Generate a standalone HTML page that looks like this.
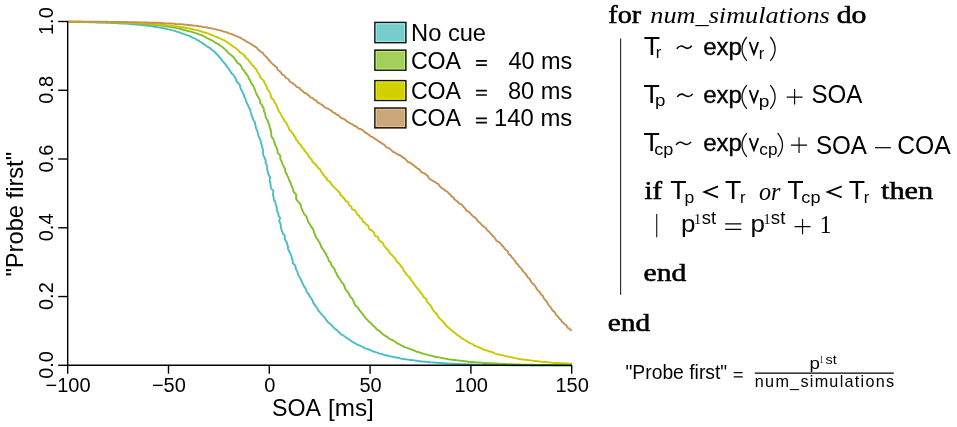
<!DOCTYPE html>
<html><head><meta charset="utf-8"><style>
html,body{margin:0;padding:0;background:#fff;overflow:hidden;}
svg{display:block;will-change:transform;}
</style></head><body>
<svg width="957" height="427" viewBox="0 0 957 427">
<rect width="957" height="427" fill="#fff"/>
<path d="M67.70,21.84 L68.71,21.88 L69.72,21.90 L70.72,21.90 L71.73,21.91 L72.74,21.95 L73.75,22.01 L74.76,22.02 L75.76,22.00 L76.77,22.02 L77.78,22.03 L78.79,22.03 L79.80,22.07 L80.80,22.11 L81.81,22.10 L82.82,22.13 L83.83,22.18 L84.84,22.16 L85.84,22.13 L86.85,22.14 L87.86,22.14 L88.87,22.20 L89.88,22.29 L90.88,22.35 L91.89,22.38 L92.90,22.36 L93.91,22.36 L94.92,22.38 L95.92,22.43 L96.93,22.44 L97.94,22.44 L98.95,22.48 L99.96,22.49 L100.97,22.51 L101.97,22.54 L102.98,22.60 L103.99,22.65 L105.00,22.67 L106.01,22.68 L107.01,22.74 L108.02,22.81 L109.03,22.85 L110.04,22.89 L111.04,22.95 L112.05,22.98 L113.06,22.99 L114.07,23.01 L115.08,23.06 L116.08,23.17 L117.09,23.26 L118.10,23.32 L119.10,23.41 L120.11,23.43 L121.13,23.41 L122.13,23.47 L123.14,23.53 L124.15,23.54 L125.16,23.59 L126.17,23.64 L127.18,23.72 L128.19,23.76 L129.19,23.87 L130.19,24.06 L131.19,24.23 L132.20,24.31 L133.21,24.36 L134.22,24.42 L135.23,24.46 L136.24,24.55 L137.25,24.67 L138.26,24.71 L139.27,24.76 L140.28,24.89 L141.29,24.93 L142.31,25.01 L143.30,25.24 L144.30,25.39 L145.32,25.46 L146.33,25.52 L147.34,25.65 L148.34,25.86 L149.34,26.06 L150.35,26.17 L151.38,26.14 L152.38,26.31 L153.37,26.58 L154.39,26.69 L155.41,26.79 L156.41,26.96 L157.41,27.18 L158.42,27.33 L159.43,27.52 L160.44,27.67 L161.46,27.81 L162.46,28.04 L163.46,28.28 L164.46,28.54 L165.47,28.74 L166.51,28.84 L167.49,29.17 L168.49,29.43 L169.50,29.67 L170.50,29.93 L171.53,30.12 L172.54,30.36 L173.56,30.60 L174.56,30.89 L175.58,31.14 L176.56,31.52 L177.55,31.89 L178.57,32.17 L179.60,32.44 L180.54,32.95 L181.56,33.28 L182.59,33.55 L183.61,33.90 L184.60,34.30 L185.62,34.66 L186.63,35.05 L187.68,35.36 L188.74,35.65 L189.74,36.11 L190.75,36.57 L191.76,37.04 L192.60,37.60 L193.53,37.99 L194.52,38.29 L195.43,38.74 L196.28,39.34 L197.12,39.95 L198.03,40.45 L198.97,40.92 L199.85,41.48 L200.77,42.01 L201.68,42.57 L202.53,43.23 L203.40,43.88 L204.34,44.44 L205.26,45.04 L206.13,45.73 L207.06,46.35 L207.93,46.87 L208.78,47.43 L209.70,47.91 L210.58,48.48 L211.23,49.33 L212.08,49.96 L213.00,50.52 L213.93,51.10 L214.63,51.95 L215.42,52.72 L216.20,53.52 L216.90,54.41 L217.77,55.15 L218.49,55.86 L219.04,56.74 L219.75,57.48 L220.59,58.12 L221.18,59.01 L221.71,59.95 L222.41,60.77 L223.02,61.67 L223.82,62.44 L224.56,63.27 L225.31,64.12 L226.04,65.00 L226.42,66.16 L226.89,67.06 L227.81,67.64 L228.53,68.39 L228.97,69.36 L229.60,70.20 L230.29,71.02 L230.72,72.02 L231.28,72.96 L232.09,73.76 L233.05,74.47 L233.73,75.39 L234.30,76.39 L234.94,77.37 L235.65,78.33 L236.16,79.42 L236.26,80.53 L236.66,81.47 L237.46,82.21 L238.18,83.00 L238.85,83.85 L239.54,84.69 L239.97,85.69 L240.23,86.80 L240.39,87.96 L240.78,89.02 L241.38,89.99 L242.00,90.96 L242.51,92.01 L242.84,93.15 L243.52,94.15 L244.03,95.24 L244.13,96.53 L244.70,97.63 L245.58,98.61 L245.68,99.67 L245.85,100.71 L246.30,101.64 L246.79,102.56 L246.93,103.64 L247.73,104.46 L248.22,105.42 L248.44,106.51 L248.88,107.51 L249.49,108.47 L250.16,109.41 L250.30,110.57 L250.59,111.69 L250.92,112.80 L251.33,113.89 L251.45,115.10 L251.86,116.22 L252.60,117.24 L252.91,118.42 L253.17,119.64 L253.83,120.73 L254.64,121.78 L255.11,122.97 L255.18,124.30 L255.55,125.55 L255.74,126.87 L256.03,128.17 L256.50,129.08 L256.85,130.03 L257.20,131.00 L257.60,131.95 L257.79,132.98 L257.97,134.02 L258.33,135.02 L258.56,136.06 L259.02,137.04 L259.42,138.06 L259.95,139.04 L260.64,139.99 L260.75,141.12 L260.75,142.28 L261.11,143.35 L261.52,144.42 L261.81,145.54 L262.08,146.66 L262.35,147.80 L262.73,148.92 L262.98,150.08 L263.03,151.31 L263.17,152.52 L263.10,153.80 L263.26,155.02 L263.71,156.18 L264.45,157.29 L264.99,158.45 L265.42,159.65 L265.75,160.89 L265.54,162.27 L265.85,163.54 L266.48,164.74 L267.07,165.96 L267.27,167.29 L267.18,168.69 L267.31,170.06 L267.65,171.39 L268.10,172.70 L268.28,174.09 L268.88,175.40 L269.81,176.65 L270.09,178.06 L269.71,179.60 L269.69,181.06 L270.16,182.40 L270.50,183.75 L270.60,185.15 L270.75,186.53 L270.77,187.93 L271.76,189.10 L273.03,190.19 L273.47,191.46 L273.21,192.89 L272.96,194.30 L273.25,195.58 L273.52,196.86 L273.69,198.15 L273.80,199.44 L274.47,200.59 L275.16,201.72 L275.48,202.94 L275.66,204.18 L275.93,205.39 L276.55,206.50 L276.82,207.70 L276.80,208.95 L276.90,210.17 L277.19,211.33 L277.87,212.38 L278.35,213.48 L278.40,214.67 L278.55,215.84 L279.34,216.82 L280.11,217.80 L279.71,219.09 L279.24,220.40 L279.35,221.53 L280.00,222.51 L280.35,223.56 L280.58,224.65 L280.91,225.69 L280.83,226.84 L280.82,227.97 L281.27,228.96 L281.72,229.93 L282.00,230.96 L282.32,231.95 L282.71,232.93 L283.15,233.88 L283.97,234.70 L284.77,235.52 L284.88,236.55 L284.67,237.67 L284.76,238.69 L285.20,239.94 L285.88,241.10 L286.64,242.22 L287.05,243.44 L287.28,244.71 L287.77,245.87 L287.95,247.14 L288.04,248.42 L288.41,249.60 L288.85,250.74 L289.42,251.82 L290.01,252.88 L290.46,253.98 L290.89,255.08 L291.38,256.14 L291.67,257.27 L291.99,258.37 L292.20,259.51 L292.72,260.52 L292.73,261.72 L292.71,262.91 L293.44,263.81 L294.43,264.59 L295.15,265.46 L295.47,266.49 L295.61,267.58 L295.93,268.59 L296.25,269.59 L296.75,270.50 L297.33,271.37 L297.53,272.39 L297.78,273.38 L298.12,274.33 L298.55,275.49 L299.28,276.51 L299.96,277.53 L300.38,278.66 L300.95,279.71 L301.35,280.83 L301.91,281.85 L302.46,282.86 L302.85,283.95 L303.33,284.97 L303.84,285.97 L304.42,286.91 L305.13,287.78 L305.72,288.70 L306.10,289.71 L306.39,290.77 L306.67,291.82 L307.27,292.68 L308.00,293.46 L308.81,294.18 L309.22,295.12 L309.54,296.09 L310.14,297.13 L310.92,298.04 L311.61,298.99 L312.16,300.00 L312.70,301.01 L313.02,302.15 L313.50,303.17 L314.19,304.05 L314.76,304.99 L315.47,305.82 L316.08,306.71 L316.60,307.64 L317.27,308.46 L317.95,309.25 L318.23,310.33 L318.80,311.18 L319.60,311.85 L320.18,312.67 L320.94,313.55 L321.79,314.34 L322.41,315.29 L323.17,316.12 L323.97,316.90 L324.74,317.69 L325.41,318.54 L325.86,319.57 L326.62,320.32 L327.27,321.16 L327.83,322.07 L328.59,322.78 L329.49,323.34 L330.27,324.01 L331.02,324.68 L331.88,325.43 L332.65,326.26 L333.30,327.19 L334.11,327.95 L334.88,328.73 L335.76,329.38 L336.73,329.92 L337.43,330.73 L338.16,331.51 L338.97,332.18 L339.74,332.88 L340.35,333.78 L341.16,334.42 L342.18,334.77 L343.10,335.23 L343.89,335.85 L344.79,336.52 L345.66,337.21 L346.51,337.93 L347.48,338.44 L348.42,338.99 L349.33,339.58 L350.21,340.20 L351.04,340.88 L351.91,341.49 L352.80,342.07 L353.74,342.54 L354.69,342.98 L355.56,343.55 L356.39,344.18 L357.33,344.60 L358.29,344.98 L359.26,345.31 L360.22,345.66 L361.10,346.14 L362.05,346.48 L362.92,346.97 L363.84,347.63 L364.80,348.19 L365.82,348.61 L366.85,348.97 L367.92,349.22 L368.99,349.48 L369.98,349.91 L370.93,350.44 L371.92,350.86 L372.92,351.25 L373.95,351.56 L374.96,351.89 L375.96,352.24 L376.95,352.65 L377.98,352.90 L378.95,353.33 L379.97,353.61 L380.99,353.84 L382.02,354.07 L383.00,354.44 L383.97,354.87 L384.99,355.11 L386.04,355.20 L387.06,355.41 L388.04,355.76 L389.03,356.09 L390.04,356.32 L391.07,356.46 L392.09,356.63 L393.08,356.93 L394.09,357.15 L395.11,357.29 L396.12,357.48 L397.15,357.61 L398.16,357.76 L399.16,357.97 L400.15,358.29 L401.12,358.64 L402.13,358.82 L403.15,358.94 L404.16,359.12 L405.18,359.18 L406.19,359.32 L407.19,359.55 L408.21,359.61 L409.22,359.75 L410.22,359.95 L411.23,360.05 L412.25,360.16 L413.25,360.29 L414.26,360.43 L415.26,360.62 L416.27,360.72 L417.28,360.87 L418.28,361.06 L419.28,361.19 L420.29,361.31 L421.30,361.45 L422.31,361.54 L423.32,361.61 L424.32,361.74 L425.33,361.82 L426.34,361.89 L427.35,361.97 L428.36,362.12 L429.36,362.23 L430.37,362.29 L431.38,362.39 L432.39,362.41 L433.40,362.45 L434.41,362.50 L435.42,362.64 L436.43,362.70 L437.44,362.77 L438.44,362.87 L439.45,362.95 L440.46,362.96 L441.47,363.01 L442.48,363.12 L443.48,363.24 L444.49,363.29 L445.49,363.42 L446.50,363.47 L447.51,363.49 L448.52,363.58 L449.53,363.61 L450.54,363.65 L451.54,363.72 L452.55,363.76 L453.56,363.78 L454.57,363.79 L455.58,363.85 L456.59,363.88 L457.59,363.94 L458.60,364.01 L459.61,364.08 L460.62,364.10 L461.63,364.08 L462.64,364.14 L463.64,364.16 L464.65,364.21 L465.66,364.29 L466.67,364.33 L467.68,364.32 L468.68,364.38 L469.69,364.45 L470.70,364.46 L471.71,364.43 L472.72,364.44 L473.72,364.47 L474.73,364.53 L475.74,364.59 L476.75,364.65 L477.75,364.66 L478.76,364.65 L479.77,364.71 L480.78,364.76 L481.79,364.78 L482.79,364.79 L483.80,364.80 L484.81,364.81 L485.82,364.85 L486.83,364.88 L487.83,364.90 L488.84,364.94 L489.85,364.93 L490.86,364.92 L491.87,364.93 L492.87,364.96 L493.88,365.00 L494.89,365.03 L495.90,365.05 L496.91,365.06 L497.91,365.06 L498.92,365.08 L499.93,365.09 L500.94,365.12 L501.95,365.15 L502.95,365.15 L503.96,365.14 L504.97,365.17 L505.98,365.20 L506.99,365.19 L507.99,365.20 L509.00,365.23 L510.01,365.26 L511.02,365.27 L512.03,365.27 L513.03,365.27 L514.04,365.28 L515.05,365.29 L516.06,365.31 L517.07,365.32 L518.07,365.33 L519.08,365.34 L520.09,365.35 L521.10,365.36 L522.11,365.37 L523.11,365.37 L524.12,365.38 L525.13,365.39 L526.14,365.40 L527.15,365.41 L528.15,365.42 L529.16,365.42 L530.17,365.43 L531.18,365.44 L532.19,365.45 L533.19,365.45 L534.20,365.46 L535.21,365.47 L536.22,365.47 L537.23,365.48 L538.23,365.49 L539.24,365.49 L540.25,365.50 L541.26,365.50 L542.27,365.51 L543.27,365.51 L544.28,365.52 L545.29,365.52 L546.30,365.53 L547.31,365.53 L548.31,365.54 L549.32,365.54 L550.33,365.55 L551.34,365.55 L552.35,365.56 L553.35,365.56 L554.36,365.57 L555.37,365.57 L556.38,365.57 L557.39,365.58 L558.39,365.58 L559.40,365.58 L560.41,365.59 L561.42,365.59 L562.43,365.59 L563.43,365.60 L564.44,365.60 L565.45,365.60 L566.46,365.61 L567.47,365.61 L568.47,365.61 L569.48,365.62 L570.49,365.62 L571.50,365.62" fill="none" stroke="#4ABCC2" stroke-width="1.9" stroke-linejoin="round" stroke-linecap="round"/>
<path d="M67.70,21.77 L68.71,21.76 L69.72,21.78 L70.72,21.79 L71.73,21.78 L72.74,21.78 L73.75,21.81 L74.76,21.84 L75.76,21.86 L76.77,21.84 L77.78,21.82 L78.79,21.82 L79.80,21.80 L80.80,21.83 L81.81,21.86 L82.82,21.90 L83.83,21.89 L84.84,21.92 L85.84,21.93 L86.85,21.95 L87.86,21.97 L88.87,22.00 L89.88,22.01 L90.88,22.00 L91.89,22.04 L92.90,22.10 L93.91,22.12 L94.92,22.11 L95.92,22.12 L96.93,22.16 L97.94,22.15 L98.95,22.14 L99.96,22.18 L100.96,22.21 L101.97,22.25 L102.98,22.26 L103.99,22.27 L105.00,22.29 L106.00,22.30 L107.01,22.29 L108.02,22.33 L109.03,22.40 L110.03,22.47 L111.04,22.50 L112.05,22.51 L113.06,22.51 L114.07,22.48 L115.08,22.52 L116.08,22.59 L117.09,22.66 L118.10,22.72 L119.11,22.73 L120.12,22.69 L121.13,22.68 L122.13,22.75 L123.14,22.82 L124.15,22.86 L125.16,22.89 L126.17,22.94 L127.17,22.96 L128.18,23.03 L129.19,23.11 L130.20,23.12 L131.21,23.15 L132.21,23.27 L133.22,23.34 L134.23,23.31 L135.24,23.37 L136.24,23.46 L137.25,23.54 L138.26,23.65 L139.26,23.77 L140.27,23.78 L141.28,23.85 L142.29,23.95 L143.30,23.98 L144.31,24.02 L145.32,24.05 L146.32,24.18 L147.33,24.29 L148.34,24.34 L149.35,24.44 L150.36,24.51 L151.37,24.59 L152.37,24.76 L153.37,24.88 L154.38,24.95 L155.39,25.03 L156.41,25.09 L157.42,25.15 L158.44,25.20 L159.43,25.42 L160.44,25.52 L161.45,25.64 L162.46,25.80 L163.46,25.92 L164.47,26.06 L165.47,26.29 L166.47,26.45 L167.49,26.53 L168.50,26.68 L169.51,26.82 L170.53,26.94 L171.54,27.05 L172.54,27.29 L173.54,27.54 L174.55,27.68 L175.57,27.83 L176.57,28.08 L177.57,28.31 L178.59,28.45 L179.59,28.71 L180.57,29.04 L181.58,29.27 L182.58,29.52 L183.59,29.77 L184.59,30.04 L185.61,30.25 L186.58,30.64 L187.56,31.01 L188.56,31.31 L189.64,31.35 L190.72,31.38 L191.69,31.82 L192.68,32.19 L193.70,32.50 L194.68,32.91 L195.72,33.16 L196.74,33.47 L197.74,33.88 L198.74,34.27 L199.77,34.60 L200.82,34.90 L201.87,35.22 L202.86,35.69 L203.83,36.22 L204.80,36.76 L205.75,37.37 L206.64,37.83 L207.56,38.24 L208.45,38.74 L209.38,39.15 L210.28,39.64 L211.23,40.07 L212.21,40.45 L213.08,41.03 L213.92,41.69 L214.75,42.36 L215.69,42.86 L216.68,43.32 L217.69,43.76 L218.65,44.31 L219.47,45.07 L220.38,45.72 L221.20,46.29 L222.09,46.79 L222.91,47.41 L223.62,48.17 L224.41,48.84 L225.25,49.47 L225.91,50.32 L226.71,51.03 L227.48,51.79 L228.14,52.68 L228.97,53.40 L229.78,54.17 L230.71,54.82 L231.63,55.52 L232.48,56.11 L233.21,56.82 L233.85,57.64 L234.43,58.53 L235.04,59.41 L235.71,60.25 L236.47,61.02 L236.86,62.11 L237.60,62.94 L238.61,63.57 L239.52,64.30 L240.41,65.07 L241.06,65.84 L241.47,66.80 L241.74,67.87 L242.27,68.77 L243.11,69.46 L244.00,70.14 L244.32,71.22 L244.88,72.16 L245.68,72.96 L246.34,73.86 L247.03,74.77 L247.66,75.73 L248.24,76.74 L248.55,77.92 L249.05,79.02 L249.84,79.72 L250.27,80.65 L250.58,81.65 L251.11,82.55 L251.55,83.51 L252.05,84.45 L252.85,85.24 L253.49,86.14 L253.76,87.24 L254.10,88.32 L254.73,89.28 L255.15,90.34 L255.48,91.47 L255.89,92.57 L256.40,93.64 L256.94,94.71 L257.49,95.80 L258.00,96.92 L258.76,97.94 L259.34,98.79 L259.69,99.75 L260.07,100.72 L259.99,101.87 L260.19,102.93 L260.81,103.82 L261.68,104.63 L262.22,105.58 L262.62,106.60 L263.20,107.56 L263.80,108.53 L263.85,109.73 L263.80,110.97 L264.31,112.01 L264.95,113.02 L265.18,114.19 L265.41,115.37 L265.64,116.57 L266.00,117.73 L266.60,118.82 L267.29,119.91 L267.88,121.04 L268.17,122.28 L268.65,123.48 L269.31,124.63 L269.44,125.97 L269.67,127.28 L270.15,128.50 L270.67,129.70 L270.73,131.05 L271.01,132.32 L271.21,133.60 L271.33,134.91 L271.37,136.24 L271.90,137.40 L272.91,138.38 L273.59,139.47 L273.90,140.68 L274.27,141.86 L274.66,143.02 L274.91,144.23 L275.43,145.34 L276.03,146.41 L276.60,147.49 L276.99,148.62 L277.45,149.73 L277.45,150.99 L277.45,152.24 L277.97,153.30 L279.09,154.14 L279.95,155.06 L280.24,156.19 L280.29,157.40 L280.27,158.63 L280.68,159.70 L281.33,160.67 L281.70,161.74 L282.10,162.79 L282.49,163.84 L282.93,164.86 L283.45,165.85 L283.85,166.88 L284.29,167.89 L285.11,168.75 L285.34,169.83 L285.20,171.06 L285.36,172.16 L285.97,173.07 L286.58,173.98 L287.05,174.94 L287.44,175.93 L287.97,176.86 L288.48,177.79 L288.67,178.85 L288.82,179.92 L289.49,180.77 L290.10,181.63 L290.35,182.65 L290.85,183.56 L291.27,184.49 L291.42,185.54 L291.85,186.46 L292.42,187.32 L292.70,188.30 L292.85,189.33 L293.16,190.29 L293.60,191.46 L294.15,192.57 L295.20,193.46 L296.01,194.45 L296.18,195.71 L296.10,197.09 L296.10,198.43 L296.48,199.59 L297.31,200.54 L298.03,201.53 L298.74,202.52 L299.71,203.38 L300.39,204.37 L300.84,205.46 L301.10,206.64 L301.35,207.82 L301.72,208.94 L302.28,209.96 L302.81,211.00 L303.20,212.09 L303.62,213.16 L304.09,214.21 L305.10,214.99 L305.86,215.89 L306.45,216.86 L306.88,217.91 L307.28,218.97 L307.69,220.03 L308.04,221.10 L308.45,222.15 L308.95,223.15 L309.65,224.03 L310.35,224.92 L310.76,225.95 L311.16,226.98 L312.04,227.76 L312.86,228.56 L313.32,229.55 L313.62,230.63 L313.81,231.75 L314.25,232.74 L314.80,233.67 L314.87,234.86 L315.46,235.76 L315.78,236.80 L316.29,237.74 L316.93,238.61 L317.61,239.45 L318.12,240.38 L318.71,241.27 L319.38,242.10 L319.76,243.10 L320.12,244.10 L320.80,244.93 L321.03,246.00 L321.25,247.07 L321.97,247.86 L322.58,248.72 L323.16,249.59 L323.68,250.48 L324.12,251.42 L324.69,252.29 L325.52,253.00 L326.08,253.87 L326.33,254.91 L326.56,255.96 L327.25,256.75 L327.93,257.54 L328.26,258.53 L328.52,259.55 L328.73,260.61 L329.32,261.44 L330.27,262.07 L330.83,262.92 L331.11,263.92 L331.37,264.94 L331.94,265.78 L332.44,266.66 L333.09,267.45 L333.79,268.21 L334.43,269.00 L334.88,269.90 L335.05,270.96 L335.32,271.96 L336.24,272.59 L336.58,273.54 L336.83,274.79 L337.50,275.79 L338.16,276.78 L338.76,277.82 L339.55,278.74 L340.24,279.72 L340.80,280.78 L341.38,281.81 L342.12,282.76 L343.05,283.59 L343.70,284.59 L344.08,285.74 L344.65,286.78 L344.93,288.00 L345.45,289.07 L346.13,290.04 L346.96,290.92 L347.68,291.87 L348.34,292.86 L348.88,293.91 L349.47,294.94 L350.10,295.94 L350.56,297.03 L351.41,297.87 L352.29,298.67 L352.77,299.70 L353.25,300.73 L353.81,301.69 L354.17,302.77 L354.48,303.88 L354.93,304.88 L355.58,305.74 L356.49,306.40 L357.45,307.00 L358.07,307.83 L358.52,308.77 L359.09,309.62 L359.65,310.47 L360.41,311.35 L361.06,312.30 L361.89,313.11 L362.66,313.94 L363.23,314.91 L363.83,315.85 L364.50,316.72 L365.21,317.54 L365.95,318.32 L366.60,319.17 L367.46,319.82 L368.14,320.61 L368.65,321.55 L369.57,322.10 L370.53,322.58 L371.22,323.31 L371.94,324.21 L372.62,325.12 L373.43,325.90 L374.32,326.57 L375.14,327.31 L375.81,328.19 L376.48,329.06 L377.26,329.80 L378.20,330.34 L379.14,330.86 L380.00,331.46 L380.81,332.11 L381.53,332.85 L382.27,333.56 L382.96,334.34 L383.86,334.82 L384.67,335.41 L385.57,336.07 L386.59,336.55 L387.55,337.10 L388.27,337.98 L389.19,338.58 L390.16,339.05 L391.11,339.56 L392.13,339.94 L393.06,340.44 L393.95,341.01 L394.87,341.49 L395.68,342.18 L396.51,342.82 L397.40,343.35 L398.34,343.77 L399.24,344.25 L400.14,344.74 L401.03,345.22 L401.90,345.74 L402.83,346.12 L403.74,346.54 L404.73,347.05 L405.77,347.41 L406.86,347.66 L407.85,348.13 L408.89,348.46 L409.88,348.91 L410.86,349.38 L411.91,349.65 L412.91,350.06 L413.89,350.49 L414.88,350.91 L415.82,351.43 L416.84,351.75 L417.91,351.90 L418.90,352.29 L419.88,352.71 L420.92,352.92 L421.95,353.14 L422.92,353.54 L423.91,353.92 L424.91,354.21 L425.97,354.32 L427.00,354.51 L427.94,355.02 L428.89,355.50 L429.95,355.55 L431.00,355.65 L432.01,355.84 L433.02,356.08 L434.00,356.42 L434.98,356.76 L436.00,356.94 L437.03,357.03 L438.05,357.18 L439.06,357.41 L440.07,357.59 L441.07,357.82 L442.07,358.06 L443.08,358.20 L444.09,358.36 L445.09,358.60 L446.09,358.80 L447.10,358.97 L448.10,359.19 L449.11,359.36 L450.13,359.41 L451.14,359.59 L452.14,359.78 L453.15,359.90 L454.16,360.01 L455.18,360.05 L456.20,360.13 L457.20,360.33 L458.20,360.46 L459.21,360.57 L460.22,360.71 L461.23,360.81 L462.24,360.89 L463.25,360.96 L464.26,361.06 L465.26,361.27 L466.26,361.41 L467.27,361.55 L468.26,361.77 L469.27,361.88 L470.28,361.93 L471.30,361.95 L472.32,361.93 L473.33,361.95 L474.33,362.08 L475.34,362.25 L476.34,362.34 L477.35,362.43 L478.36,362.50 L479.37,362.50 L480.38,362.55 L481.39,362.68 L482.39,362.84 L483.39,362.97 L484.40,362.99 L485.42,362.98 L486.42,363.07 L487.43,363.18 L488.44,363.24 L489.45,363.22 L490.46,363.22 L491.47,363.27 L492.47,363.38 L493.48,363.52 L494.49,363.55 L495.50,363.53 L496.51,363.54 L497.51,363.65 L498.52,363.75 L499.53,363.77 L500.53,363.85 L501.54,363.90 L502.55,363.93 L503.56,363.95 L504.57,363.97 L505.58,364.01 L506.58,364.09 L507.59,364.12 L508.60,364.11 L509.61,364.12 L510.62,364.15 L511.62,364.24 L512.63,364.28 L513.64,364.37 L514.65,364.38 L515.66,364.39 L516.66,364.45 L517.67,364.47 L518.68,364.51 L519.69,364.55 L520.69,364.58 L521.70,364.60 L522.71,364.59 L523.72,364.64 L524.73,364.66 L525.74,364.66 L526.74,364.69 L527.75,364.72 L528.76,364.73 L529.77,364.75 L530.78,364.78 L531.78,364.81 L532.79,364.81 L533.80,364.82 L534.81,364.85 L535.82,364.88 L536.82,364.90 L537.83,364.93 L538.84,364.94 L539.85,364.95 L540.86,364.98 L541.86,365.00 L542.87,365.01 L543.88,365.02 L544.89,365.04 L545.90,365.06 L546.90,365.07 L547.91,365.10 L548.92,365.11 L549.93,365.13 L550.94,365.15 L551.94,365.17 L552.95,365.18 L553.96,365.21 L554.97,365.23 L555.97,365.23 L556.98,365.24 L557.99,365.24 L559.00,365.26 L560.01,365.27 L561.02,365.28 L562.02,365.28 L563.03,365.29 L564.04,365.30 L565.05,365.31 L566.06,365.32 L567.06,365.33 L568.07,365.34 L569.08,365.35 L570.09,365.36 L571.10,365.37" fill="none" stroke="#80C028" stroke-width="1.9" stroke-linejoin="round" stroke-linecap="round"/>
<path d="M67.70,21.74 L68.71,21.73 L69.72,21.73 L70.72,21.73 L71.73,21.74 L72.74,21.74 L73.75,21.73 L74.76,21.73 L75.76,21.76 L76.77,21.77 L77.78,21.81 L78.79,21.82 L79.80,21.81 L80.80,21.78 L81.81,21.79 L82.82,21.83 L83.83,21.86 L84.84,21.86 L85.84,21.85 L86.85,21.85 L87.86,21.87 L88.87,21.89 L89.88,21.87 L90.88,21.88 L91.89,21.90 L92.90,21.88 L93.91,21.88 L94.92,21.92 L95.92,21.95 L96.93,21.98 L97.94,22.01 L98.95,22.04 L99.96,22.04 L100.96,22.05 L101.97,22.08 L102.98,22.08 L103.99,22.13 L105.00,22.15 L106.00,22.12 L107.01,22.17 L108.02,22.19 L109.03,22.19 L110.04,22.21 L111.04,22.19 L112.05,22.22 L113.06,22.31 L114.07,22.34 L115.08,22.32 L116.08,22.32 L117.09,22.39 L118.10,22.40 L119.11,22.39 L120.12,22.43 L121.12,22.51 L122.13,22.53 L123.14,22.53 L124.15,22.61 L125.15,22.66 L126.16,22.65 L127.17,22.62 L128.18,22.64 L129.19,22.71 L130.20,22.78 L131.20,22.81 L132.21,22.80 L133.22,22.84 L134.23,22.90 L135.24,22.97 L136.25,22.95 L137.25,23.00 L138.26,23.11 L139.27,23.11 L140.28,23.15 L141.28,23.27 L142.29,23.29 L143.31,23.25 L144.31,23.28 L145.32,23.36 L146.33,23.49 L147.33,23.58 L148.34,23.60 L149.35,23.66 L150.36,23.74 L151.36,23.83 L152.37,23.92 L153.38,23.95 L154.39,24.03 L155.39,24.19 L156.39,24.34 L157.40,24.43 L158.41,24.42 L159.43,24.45 L160.44,24.54 L161.44,24.62 L162.45,24.70 L163.47,24.70 L164.48,24.79 L165.48,25.00 L166.48,25.14 L167.49,25.20 L168.50,25.36 L169.50,25.50 L170.51,25.59 L171.53,25.59 L172.56,25.61 L173.55,25.85 L174.54,26.11 L175.55,26.22 L176.58,26.24 L177.58,26.42 L178.59,26.57 L179.59,26.73 L180.58,27.03 L181.58,27.26 L182.62,27.21 L183.65,27.25 L184.64,27.52 L185.62,27.88 L186.63,28.02 L187.65,28.17 L188.65,28.42 L189.67,28.54 L190.69,28.69 L191.67,29.03 L192.69,29.23 L193.71,29.40 L194.70,29.68 L195.70,29.96 L196.73,30.15 L197.77,30.25 L198.76,30.59 L199.76,30.91 L200.77,31.19 L201.73,31.64 L202.72,32.01 L203.73,32.30 L204.76,32.54 L205.80,32.76 L206.81,33.08 L207.83,33.39 L208.82,33.80 L209.78,34.30 L210.78,34.68 L211.80,35.03 L212.84,35.36 L213.83,35.81 L214.78,36.36 L215.83,36.69 L216.93,36.92 L217.92,37.44 L218.83,37.86 L219.77,38.23 L220.64,38.75 L221.54,39.22 L222.47,39.66 L223.48,39.95 L224.41,40.43 L225.27,41.02 L226.17,41.56 L227.07,42.13 L227.93,42.75 L228.75,43.46 L229.63,44.10 L230.59,44.61 L231.50,45.23 L232.42,45.84 L233.26,46.58 L234.13,47.29 L235.03,47.78 L235.93,48.28 L236.70,48.96 L237.61,49.49 L238.30,50.29 L238.85,51.28 L239.63,52.00 L240.53,52.60 L241.52,53.13 L242.43,53.78 L243.33,54.45 L244.29,55.09 L244.89,56.10 L245.27,57.14 L245.88,57.96 L246.76,58.55 L247.68,59.11 L248.30,59.97 L248.74,61.00 L249.56,61.71 L250.34,62.47 L251.06,63.31 L251.50,64.39 L252.29,65.20 L253.32,65.85 L253.95,66.82 L254.51,67.66 L255.31,68.33 L256.00,69.10 L256.51,70.02 L257.07,70.92 L257.45,71.95 L258.06,72.83 L258.67,73.74 L259.34,74.62 L259.70,75.71 L260.03,76.84 L260.68,77.78 L261.33,78.73 L262.37,79.48 L263.47,80.21 L263.88,81.14 L264.19,82.14 L264.71,83.02 L265.11,83.99 L265.71,84.86 L266.30,85.75 L266.86,86.67 L267.05,87.80 L267.29,88.91 L267.91,89.84 L268.57,90.77 L269.10,91.77 L269.74,92.74 L270.48,93.65 L270.65,94.83 L270.76,96.04 L271.01,97.17 L271.55,98.16 L272.65,98.84 L273.54,99.62 L274.00,100.62 L274.35,101.66 L274.75,102.68 L275.38,103.56 L275.96,104.47 L276.44,105.42 L277.00,106.32 L277.22,107.40 L277.64,108.37 L278.07,109.33 L278.45,110.30 L278.76,111.31 L279.52,112.06 L280.11,112.91 L280.69,113.75 L281.08,114.69 L281.59,115.56 L281.98,116.49 L282.60,117.52 L283.31,118.48 L283.90,119.51 L284.18,120.71 L285.02,121.58 L285.94,122.38 L286.64,123.31 L286.92,124.49 L287.62,125.40 L288.16,126.41 L288.59,127.48 L288.96,128.58 L289.36,129.66 L290.25,130.43 L291.23,131.12 L291.68,132.15 L292.22,133.12 L293.11,133.85 L293.69,134.77 L294.09,135.81 L294.70,136.71 L295.42,137.53 L295.83,138.55 L296.11,139.66 L296.94,140.38 L297.72,141.13 L298.15,142.13 L298.53,143.15 L299.33,143.87 L300.42,144.38 L301.04,145.22 L301.20,146.38 L302.05,147.05 L302.65,147.89 L303.34,148.66 L304.04,149.42 L304.30,150.50 L304.96,151.28 L305.73,151.97 L306.27,152.83 L307.07,153.49 L307.66,154.31 L308.02,155.30 L308.56,156.14 L309.38,156.99 L309.86,158.08 L310.78,158.83 L311.75,159.54 L312.08,160.75 L312.41,161.94 L313.36,162.65 L314.46,163.24 L315.20,164.11 L315.80,165.08 L316.71,165.80 L317.37,166.73 L317.92,167.73 L318.81,168.46 L319.88,169.03 L320.41,170.05 L320.76,171.20 L321.34,172.16 L322.09,172.99 L322.91,173.75 L323.49,174.72 L324.19,175.57 L324.71,176.58 L325.68,177.20 L326.63,177.85 L326.83,179.12 L327.22,180.22 L328.31,180.74 L329.27,181.36 L330.12,182.08 L330.68,183.03 L331.34,183.91 L331.97,184.80 L332.55,185.74 L333.35,186.48 L334.19,187.20 L335.01,187.92 L335.83,188.65 L336.45,189.54 L337.14,190.38 L338.10,190.98 L338.85,191.76 L339.45,192.67 L340.10,193.53 L340.25,194.83 L341.02,195.59 L341.99,196.17 L342.71,196.98 L343.48,197.74 L344.26,198.48 L344.92,199.33 L345.38,200.36 L345.91,201.33 L347.29,201.55 L348.13,202.24 L348.39,203.44 L348.89,204.43 L349.42,205.39 L350.43,205.94 L351.27,206.63 L351.62,207.75 L351.99,208.85 L352.77,209.60 L354.03,209.93 L355.06,210.45 L355.59,211.41 L356.17,212.33 L356.66,213.33 L357.14,214.34 L358.18,214.86 L359.13,215.46 L359.52,216.55 L359.86,217.68 L360.80,218.29 L361.97,218.70 L362.41,219.75 L362.56,221.05 L363.21,221.91 L364.31,222.38 L365.16,223.08 L365.71,224.03 L366.61,224.68 L367.58,225.28 L368.34,226.05 L368.68,227.19 L368.97,228.37 L369.60,229.26 L370.58,229.85 L371.66,230.36 L372.33,231.21 L373.33,231.80 L374.00,232.65 L374.33,233.81 L374.56,235.04 L375.29,235.85 L376.48,236.28 L377.65,236.73 L378.20,237.70 L378.43,238.94 L378.96,239.93 L379.63,240.80 L380.56,241.46 L381.63,242.00 L382.44,242.76 L383.03,243.71 L383.60,244.67 L383.93,245.84 L384.73,246.61 L385.61,247.32 L386.15,248.32 L386.97,249.09 L387.85,249.80 L388.39,250.80 L389.04,251.71 L389.82,252.52 L390.35,253.53 L391.04,254.41 L392.00,255.08 L392.81,255.87 L393.40,256.84 L394.40,257.48 L395.16,258.32 L395.57,259.44 L396.17,260.41 L396.85,261.32 L397.40,262.33 L398.33,263.05 L399.38,263.67 L400.00,264.63 L400.59,265.62 L401.11,266.67 L402.16,267.31 L402.98,268.13 L403.31,269.33 L403.57,270.58 L404.30,271.47 L405.14,272.28 L405.78,273.25 L406.32,274.29 L407.12,275.14 L407.92,276.00 L408.83,276.77 L409.69,277.37 L410.25,278.20 L410.62,279.18 L411.12,280.06 L411.74,280.86 L412.41,281.62 L412.93,282.49 L413.65,283.21 L414.34,283.96 L414.76,284.91 L415.26,285.80 L415.95,286.56 L416.65,287.31 L417.19,288.18 L417.82,288.98 L418.59,289.69 L419.33,290.42 L419.73,291.40 L420.12,292.39 L420.98,293.04 L421.73,293.77 L422.44,294.53 L422.79,295.56 L423.09,296.62 L423.87,297.34 L424.91,297.87 L425.74,298.57 L426.35,299.42 L426.62,300.51 L427.01,301.52 L427.56,302.41 L428.34,303.16 L429.02,303.96 L429.76,304.73 L430.59,305.44 L431.10,306.38 L431.58,307.33 L432.12,308.22 L432.56,309.17 L433.04,310.09 L433.70,310.86 L434.38,311.60 L435.13,312.49 L436.03,313.23 L436.93,313.96 L437.41,315.01 L437.84,316.10 L438.46,317.01 L439.19,317.82 L439.88,318.65 L440.73,319.33 L441.51,320.04 L442.20,320.83 L443.07,321.43 L443.66,322.29 L444.34,323.04 L444.97,323.84 L445.39,324.84 L446.26,325.57 L447.03,326.39 L447.73,327.28 L448.66,327.90 L449.53,328.57 L450.33,329.30 L451.16,329.99 L451.98,330.67 L452.74,331.41 L453.57,332.05 L454.47,332.58 L455.36,333.12 L456.06,333.89 L456.80,334.60 L457.63,335.18 L458.49,335.69 L459.40,336.35 L460.30,337.00 L461.13,337.74 L461.98,338.44 L462.95,338.95 L463.90,339.48 L464.85,339.98 L465.75,340.55 L466.66,341.10 L467.52,341.72 L468.36,342.36 L469.34,342.76 L470.28,343.19 L471.21,343.64 L472.21,343.95 L473.06,344.52 L473.82,345.27 L474.76,345.66 L475.72,345.99 L476.60,346.49 L477.49,346.95 L478.57,347.26 L479.65,347.54 L480.63,348.03 L481.60,348.53 L482.55,349.08 L483.52,349.61 L484.59,349.84 L485.64,350.12 L486.65,350.48 L487.66,350.84 L488.67,351.19 L489.68,351.54 L490.72,351.79 L491.78,351.94 L492.73,352.44 L493.70,352.89 L494.68,353.28 L495.67,353.64 L496.68,353.93 L497.72,354.12 L498.72,354.40 L499.73,354.67 L500.74,354.93 L501.75,355.18 L502.78,355.36 L503.78,355.62 L504.76,355.98 L505.77,356.20 L506.80,356.34 L507.82,356.52 L508.82,356.79 L509.85,356.87 L510.85,357.13 L511.84,357.42 L512.86,357.56 L513.85,357.82 L514.84,358.12 L515.85,358.32 L516.86,358.46 L517.87,358.63 L518.87,358.83 L519.88,358.99 L520.88,359.24 L521.87,359.48 L522.90,359.55 L523.91,359.63 L524.93,359.74 L525.93,359.90 L526.95,359.99 L527.97,360.06 L528.97,360.20 L529.97,360.43 L530.98,360.55 L531.99,360.67 L532.98,360.87 L533.99,360.99 L535.01,361.04 L536.02,361.12 L537.02,361.27 L538.04,361.31 L539.05,361.41 L540.05,361.58 L541.05,361.72 L542.06,361.81 L543.07,361.89 L544.08,361.99 L545.10,361.98 L546.11,362.01 L547.11,362.16 L548.11,362.35 L549.12,362.46 L550.12,362.56 L551.13,362.67 L552.13,362.77 L553.14,362.83 L554.15,362.92 L555.16,362.99 L556.17,363.03 L557.18,363.03 L558.20,363.01 L559.20,363.06 L560.21,363.14 L561.22,363.19 L562.23,363.28 L563.24,363.30 L564.24,363.35 L565.25,363.41 L566.26,363.47 L567.27,363.54 L568.27,363.62 L569.28,363.67 L570.29,363.73 L571.30,363.81" fill="none" stroke="#C8C800" stroke-width="1.9" stroke-linejoin="round" stroke-linecap="round"/>
<path d="M67.70,21.59 L68.71,21.59 L69.72,21.60 L70.72,21.59 L71.73,21.59 L72.74,21.61 L73.75,21.63 L74.76,21.66 L75.76,21.66 L76.77,21.64 L77.78,21.64 L78.79,21.64 L79.80,21.63 L80.80,21.63 L81.81,21.66 L82.82,21.67 L83.83,21.66 L84.84,21.64 L85.84,21.65 L86.85,21.66 L87.86,21.67 L88.87,21.67 L89.88,21.68 L90.88,21.70 L91.89,21.69 L92.90,21.69 L93.91,21.72 L94.92,21.74 L95.92,21.74 L96.93,21.72 L97.94,21.72 L98.95,21.75 L99.96,21.79 L100.96,21.80 L101.97,21.81 L102.98,21.81 L103.99,21.80 L105.00,21.81 L106.00,21.82 L107.01,21.81 L108.02,21.83 L109.03,21.82 L110.04,21.83 L111.04,21.87 L112.05,21.90 L113.06,21.93 L114.07,21.93 L115.08,21.92 L116.08,21.91 L117.09,21.91 L118.10,21.92 L119.11,21.94 L120.12,21.96 L121.12,21.95 L122.13,21.97 L123.14,21.97 L124.15,22.00 L125.16,22.00 L126.16,22.01 L127.17,22.05 L128.18,22.12 L129.19,22.14 L130.19,22.18 L131.20,22.16 L132.21,22.16 L133.22,22.19 L134.23,22.20 L135.24,22.21 L136.24,22.25 L137.25,22.27 L138.26,22.28 L139.27,22.33 L140.28,22.36 L141.28,22.34 L142.29,22.34 L143.30,22.39 L144.31,22.46 L145.31,22.52 L146.32,22.55 L147.33,22.56 L148.34,22.56 L149.35,22.62 L150.35,22.69 L151.36,22.72 L152.37,22.74 L153.38,22.73 L154.39,22.75 L155.40,22.77 L156.41,22.82 L157.42,22.80 L158.43,22.78 L159.43,22.89 L160.44,22.98 L161.45,23.04 L162.45,23.10 L163.46,23.19 L164.46,23.28 L165.47,23.33 L166.48,23.36 L167.49,23.38 L168.50,23.42 L169.51,23.43 L170.52,23.44 L171.53,23.53 L172.53,23.63 L173.55,23.66 L174.55,23.74 L175.55,23.95 L176.55,24.08 L177.57,24.09 L178.58,24.08 L179.59,24.13 L180.60,24.19 L181.61,24.28 L182.61,24.42 L183.62,24.55 L184.63,24.65 L185.63,24.73 L186.65,24.78 L187.66,24.84 L188.66,25.02 L189.66,25.19 L190.67,25.26 L191.69,25.27 L192.69,25.44 L193.69,25.62 L194.71,25.66 L195.72,25.77 L196.73,25.89 L197.74,26.01 L198.74,26.27 L199.74,26.45 L200.76,26.51 L201.77,26.65 L202.76,26.90 L203.76,27.13 L204.78,27.20 L205.83,27.13 L206.83,27.37 L207.81,27.73 L208.82,27.91 L209.82,28.11 L210.86,28.20 L211.88,28.32 L212.88,28.58 L213.87,28.88 L214.87,29.14 L215.88,29.40 L216.88,29.65 L217.89,29.91 L218.89,30.17 L219.92,30.37 L220.93,30.62 L221.92,30.98 L222.89,31.37 L223.91,31.63 L224.95,31.84 L225.99,32.04 L227.00,32.36 L227.95,32.88 L228.93,33.32 L229.96,33.60 L230.98,33.93 L232.02,34.22 L233.03,34.60 L234.01,35.07 L235.02,35.47 L236.04,35.87 L237.05,36.30 L238.05,36.78 L239.10,37.17 L240.07,37.47 L240.94,37.99 L241.70,38.73 L242.56,39.28 L243.50,39.70 L244.45,40.10 L245.38,40.57 L246.18,41.27 L247.01,41.93 L247.98,42.38 L248.94,42.85 L249.93,43.30 L250.86,43.86 L251.74,44.51 L252.64,45.15 L253.63,45.68 L254.56,46.31 L255.39,46.89 L256.34,47.33 L257.15,47.97 L257.69,48.96 L258.32,49.83 L259.17,50.45 L259.98,51.15 L260.85,51.78 L261.86,52.29 L262.75,52.96 L263.46,53.84 L264.10,54.80 L264.86,55.65 L265.67,56.27 L266.45,56.94 L267.22,57.63 L267.70,58.61 L268.25,59.53 L269.08,60.22 L269.81,61.01 L270.45,61.87 L271.15,62.66 L271.90,63.41 L272.66,64.13 L273.55,64.73 L274.42,65.33 L275.05,66.15 L275.86,66.79 L276.73,67.37 L277.15,68.37 L277.56,69.37 L278.22,70.13 L279.13,70.84 L279.96,71.62 L280.88,72.28 L281.40,73.36 L281.91,74.45 L282.96,74.96 L284.04,75.42 L284.81,76.21 L285.44,77.14 L286.17,77.96 L287.17,78.48 L288.16,78.98 L288.79,79.90 L289.41,80.82 L290.08,81.68 L290.90,82.36 L291.93,82.78 L292.90,83.27 L293.64,84.02 L294.46,84.68 L295.35,85.23 L295.95,86.15 L296.72,86.85 L297.69,87.30 L298.74,87.62 L299.68,88.09 L300.25,89.03 L300.91,89.84 L301.71,90.47 L302.58,91.01 L303.38,91.63 L303.99,92.50 L304.77,93.14 L305.91,93.29 L306.84,93.72 L307.48,94.55 L308.42,95.16 L309.29,95.86 L309.92,96.91 L310.79,97.61 L312.01,97.83 L313.02,98.32 L313.67,99.32 L314.67,99.82 L315.74,100.23 L316.49,101.07 L317.14,102.08 L318.07,102.68 L319.14,103.06 L320.02,103.71 L320.93,104.32 L322.00,104.69 L322.81,105.44 L323.55,106.30 L324.42,106.96 L325.34,107.54 L326.29,108.08 L327.35,108.44 L328.40,108.82 L329.25,109.50 L330.22,110.00 L331.17,110.52 L331.99,111.25 L332.74,112.07 L333.68,112.60 L334.77,112.90 L335.55,113.69 L336.36,114.43 L337.32,114.93 L338.37,115.27 L339.25,115.89 L339.98,116.75 L340.66,117.69 L341.58,118.25 L342.68,118.51 L343.78,118.79 L344.65,119.43 L345.52,120.05 L346.36,120.73 L347.11,121.55 L348.03,122.11 L349.00,122.58 L349.95,123.08 L350.92,123.56 L351.91,124.00 L352.80,124.60 L353.62,125.31 L354.59,125.78 L355.66,126.10 L356.56,126.70 L357.36,127.43 L358.16,128.17 L358.97,128.90 L360.19,128.99 L361.28,129.28 L362.21,129.81 L363.03,130.53 L363.87,131.21 L364.59,132.09 L365.44,132.76 L366.54,133.04 L367.41,133.67 L368.16,134.50 L369.10,135.03 L369.99,135.65 L370.73,136.49 L371.79,136.83 L372.84,137.21 L373.73,137.82 L374.52,138.58 L375.44,139.15 L376.43,139.62 L377.33,140.22 L378.13,140.99 L379.02,141.61 L379.94,142.19 L380.92,142.67 L381.78,143.34 L382.69,143.95 L383.70,144.39 L384.69,144.88 L385.27,145.96 L385.92,146.95 L386.81,147.59 L387.98,147.81 L389.04,148.20 L389.92,148.85 L390.68,149.69 L391.59,150.30 L392.37,151.10 L393.18,151.87 L394.23,152.28 L395.33,152.63 L396.14,153.40 L397.05,154.02 L397.96,154.65 L399.05,155.02 L400.14,155.40 L401.11,155.94 L401.86,156.81 L402.73,157.50 L403.79,157.94 L404.78,158.47 L405.55,159.31 L406.32,160.16 L407.13,160.94 L407.77,161.96 L408.79,162.47 L410.13,162.53 L411.05,163.18 L411.80,164.06 L412.63,164.62 L413.56,165.05 L414.30,165.74 L415.06,166.40 L415.77,167.13 L416.62,167.67 L417.41,168.30 L418.22,168.91 L419.16,169.34 L419.94,169.98 L420.40,171.05 L421.07,171.84 L422.02,172.28 L422.87,172.83 L423.89,173.18 L424.81,173.65 L425.68,174.20 L426.41,174.94 L427.26,175.51 L428.00,176.23 L428.45,177.31 L428.97,178.31 L429.73,179.01 L430.71,179.43 L431.49,180.11 L432.49,180.51 L433.30,181.15 L434.28,181.59 L435.41,181.84 L435.94,182.84 L436.92,183.29 L437.92,183.71 L438.68,184.43 L439.18,185.47 L439.82,186.34 L440.65,186.98 L441.35,187.78 L442.13,188.48 L443.16,188.90 L444.12,189.40 L444.73,190.31 L445.62,190.90 L446.67,191.30 L447.54,191.91 L448.25,192.73 L448.99,193.49 L449.78,194.22 L450.53,194.99 L451.09,195.97 L451.98,196.57 L452.99,197.06 L453.67,197.91 L454.12,199.03 L454.99,199.68 L455.87,200.31 L456.63,201.08 L457.53,201.70 L458.30,202.47 L458.95,203.37 L459.92,203.92 L461.09,204.26 L462.02,204.87 L462.71,205.74 L463.31,206.70 L464.07,207.50 L464.99,208.13 L465.57,209.12 L465.95,210.34 L466.83,211.02 L468.01,211.38 L469.15,211.79 L469.71,212.82 L470.53,213.57 L471.28,214.40 L471.94,215.34 L472.80,216.06 L473.76,216.68 L474.68,217.35 L475.57,218.06 L476.36,218.86 L477.03,219.80 L477.66,220.77 L478.43,221.62 L479.40,222.25 L480.17,223.10 L480.75,223.93 L481.46,224.64 L482.16,225.36 L483.08,225.86 L483.76,226.60 L484.54,227.26 L485.42,227.81 L486.16,228.50 L486.65,229.44 L487.20,230.32 L488.09,230.88 L488.97,231.44 L489.54,232.32 L490.24,233.06 L490.96,233.79 L491.69,234.52 L492.21,235.44 L492.99,236.12 L493.89,236.70 L494.50,237.55 L494.98,238.51 L495.58,239.38 L496.10,240.31 L496.85,241.03 L497.93,241.46 L498.90,241.99 L499.71,242.67 L500.57,243.31 L501.02,244.33 L501.68,245.15 L502.52,245.82 L503.21,246.62 L503.84,247.48 L504.40,248.40 L505.08,249.23 L505.94,249.89 L506.79,250.57 L507.72,251.18 L508.20,252.18 L508.36,253.47 L508.90,254.43 L509.91,254.98 L510.84,255.61 L511.31,256.63 L511.96,257.50 L512.85,258.18 L513.50,259.05 L514.14,259.94 L514.86,260.77 L515.57,261.60 L515.95,262.71 L516.58,263.63 L517.70,264.13 L518.34,265.03 L518.74,266.14 L519.57,266.90 L520.45,267.61 L521.29,268.36 L521.83,269.37 L522.30,270.43 L523.19,271.15 L523.77,272.12 L524.59,272.91 L525.45,273.67 L526.19,274.52 L526.77,275.51 L527.30,276.54 L527.85,277.55 L528.90,278.19 L529.72,278.99 L530.28,280.01 L530.83,281.04 L531.40,282.05 L532.05,283.01 L532.88,283.83 L533.81,284.57 L534.57,285.45 L535.34,286.33 L535.89,287.37 L536.31,288.31 L536.88,289.14 L537.59,289.86 L538.18,290.67 L538.93,291.38 L539.64,292.11 L540.19,292.96 L540.64,293.89 L541.21,294.74 L542.22,295.25 L542.92,296.01 L543.16,297.10 L543.71,297.97 L544.35,298.77 L544.88,299.66 L545.55,300.45 L546.38,301.12 L546.97,301.97 L547.48,302.88 L547.90,303.86 L548.41,304.77 L548.99,305.64 L549.77,306.37 L550.51,307.13 L551.11,307.99 L551.60,308.93 L552.17,309.81 L552.76,310.65 L553.69,311.24 L554.50,311.90 L555.01,312.76 L555.57,313.79 L556.16,314.78 L556.89,315.65 L557.79,316.36 L558.57,317.15 L559.02,318.21 L559.71,319.04 L560.64,319.65 L561.27,320.52 L561.76,321.50 L562.58,322.16 L563.41,322.80 L563.98,323.67 L564.81,324.28 L565.76,324.75 L566.50,325.62 L567.04,326.67 L567.63,327.67 L568.52,328.35 L569.46,328.94 L570.33,329.60 L571.19,330.24" fill="none" stroke="#C69050" stroke-width="1.9" stroke-linejoin="round" stroke-linecap="round"/>
<g stroke="#000" stroke-width="1.4" fill="none">
<path d="M67.7,21.5 V365.3"/>
<path d="M58.2,365.30 H67.7"/>
<path d="M58.2,296.54 H67.7"/>
<path d="M58.2,227.78 H67.7"/>
<path d="M58.2,159.02 H67.7"/>
<path d="M58.2,90.26 H67.7"/>
<path d="M58.2,21.50 H67.7"/>
<path d="M67.7,365.3 H571.7"/>
<path d="M67.70,365.3 V373.7"/>
<path d="M168.50,365.3 V373.7"/>
<path d="M269.30,365.3 V373.7"/>
<path d="M370.10,365.3 V373.7"/>
<path d="M470.90,365.3 V373.7"/>
<path d="M571.70,365.3 V373.7"/>
</g>
<g font-family="Liberation Sans" font-size="20" fill="#000" text-anchor="middle">
<text x="68.10" y="392.2">−100</text>
<text x="168.90" y="392.2">−50</text>
<text x="269.70" y="392.2">0</text>
<text x="370.50" y="392.2">50</text>
<text x="471.30" y="392.2">100</text>
<text x="572.10" y="392.2">150</text>
<text transform="translate(53.4,364.90) rotate(-90)">0.0</text>
<text transform="translate(53.4,296.14) rotate(-90)">0.2</text>
<text transform="translate(53.4,227.38) rotate(-90)">0.4</text>
<text transform="translate(53.4,158.62) rotate(-90)">0.6</text>
<text transform="translate(53.4,89.86) rotate(-90)">0.8</text>
<text transform="translate(53.4,21.10) rotate(-90)">1.0</text>
</g>
<text font-family="Liberation Sans" font-size="24" x="272.05" y="415.80" textLength="49.00" lengthAdjust="spacingAndGlyphs" style="white-space:pre">SOA</text>
<text font-family="Liberation Sans" font-size="24" x="328.07" y="415.80" textLength="45.75" lengthAdjust="spacingAndGlyphs" style="white-space:pre">[ms]</text>
<text font-family="Liberation Sans" font-size="24" transform="translate(23,276.61) rotate(-90)" textLength="124.71" lengthAdjust="spacingAndGlyphs">"Probe first"</text>
<rect x="374.9" y="22.45" width="31.0" height="20.20" fill="#78CCCC" stroke="#111" stroke-width="1.5"/>
<rect x="376.2" y="23.75" width="28.4" height="17.60" fill="none" stroke="#96F2F2" stroke-width="0.9"/>
<rect x="374.9" y="50.15" width="31.0" height="20.00" fill="#A3CF5C" stroke="#111" stroke-width="1.5"/>
<rect x="376.2" y="51.45" width="28.4" height="17.40" fill="none" stroke="#C4F07A" stroke-width="0.9"/>
<rect x="374.9" y="80.65" width="31.0" height="19.80" fill="#D3D000" stroke="#111" stroke-width="1.5"/>
<rect x="376.2" y="81.95" width="28.4" height="17.20" fill="none" stroke="#F0EE10" stroke-width="0.9"/>
<rect x="374.9" y="108.05" width="31.0" height="19.80" fill="#CCA77A" stroke="#111" stroke-width="1.5"/>
<rect x="376.2" y="109.35" width="28.4" height="17.20" fill="none" stroke="#EEC690" stroke-width="0.9"/>
<text font-family="Liberation Sans" font-size="23" x="411.06" y="41.10" textLength="74.99" lengthAdjust="spacingAndGlyphs" style="white-space:pre">No cue</text>
<text font-family="Liberation Sans" font-size="23" x="410.93" y="68.90" textLength="50.12" lengthAdjust="spacingAndGlyphs" style="white-space:pre">COA</text>
<path d="M476.1,60.90 H486.9 M476.1,65.20 H486.9" stroke="#000" stroke-width="1.7"/>
<text font-family="Liberation Sans" font-size="23" x="508.46" y="68.90" textLength="63.78" lengthAdjust="spacingAndGlyphs" style="white-space:pre">40 ms</text>
<text font-family="Liberation Sans" font-size="23" x="410.93" y="98.70" textLength="50.12" lengthAdjust="spacingAndGlyphs" style="white-space:pre">COA</text>
<path d="M476.1,90.70 H486.9 M476.1,95.00 H486.9" stroke="#000" stroke-width="1.7"/>
<text font-family="Liberation Sans" font-size="23" x="507.97" y="98.70" textLength="64.28" lengthAdjust="spacingAndGlyphs" style="white-space:pre">80 ms</text>
<text font-family="Liberation Sans" font-size="23" x="410.93" y="126.30" textLength="50.12" lengthAdjust="spacingAndGlyphs" style="white-space:pre">COA</text>
<path d="M476.1,118.30 H486.9 M476.1,122.60 H486.9" stroke="#000" stroke-width="1.7"/>
<text font-family="Liberation Sans" font-size="23" x="493.98" y="126.30" textLength="78.28" lengthAdjust="spacingAndGlyphs" style="white-space:pre">140 ms</text>
<g fill="#000">
<text font-family="Liberation Serif" stroke="#000" stroke-width="0.55" font-size="24.6" x="608.34" y="22.50" textLength="32.71" lengthAdjust="spacingAndGlyphs" style="white-space:pre">for</text>
<text font-family="Liberation Serif" font-style="italic" font-size="24" x="650.26" y="22.50" textLength="179.53" lengthAdjust="spacingAndGlyphs" style="white-space:pre">num_simulations</text>
<text font-family="Liberation Serif" stroke="#000" stroke-width="0.55" font-size="24.6" x="836.72" y="22.50" textLength="29.81" lengthAdjust="spacingAndGlyphs" style="white-space:pre">do</text>
<path d="M620.6,38.6 V294.8" stroke="#222" stroke-width="1.1"/>
<text font-family="Liberation Sans" font-size="25" x="643.70" y="54.60" textLength="16.31" lengthAdjust="spacingAndGlyphs" style="white-space:pre">T</text>
<text font-family="Liberation Sans" font-size="16.5" x="655.80" y="58.40" style="white-space:pre">r</text>
<path d="M676.80,48.80 C679.03,45.60 681.72,45.40 684.25,47.20 C686.78,48.90 689.47,49.00 691.70,45.80" fill="none" stroke="#000" stroke-width="1.5"/>
<text font-family="Liberation Sans" font-size="24.7" x="703.18" y="54.60" textLength="38.83" lengthAdjust="spacingAndGlyphs" stroke="#000" stroke-width="0.35" style="white-space:pre">exp</text>
<path d="M746.80,37.00 C743.00,41.50 742.00,44.90 742.00,48.90 C742.00,52.90 743.00,56.30 746.80,60.80" fill="none" stroke="#000" stroke-width="1.25"/>
<path d="M749.6,42.00 L753.9,53.80 L758.2,42.00" fill="none" stroke="#000" stroke-width="1.85" stroke-linejoin="miter"/>
<text font-family="Liberation Sans" font-size="16.5" x="758.70" y="58.50" style="white-space:pre">r</text>
<path d="M770.30,37.00 C774.10,41.50 775.10,44.90 775.10,48.90 C775.10,52.90 774.10,56.30 770.30,60.80" fill="none" stroke="#000" stroke-width="1.25"/>
<text font-family="Liberation Sans" font-size="25" x="643.60" y="102.70" textLength="16.31" lengthAdjust="spacingAndGlyphs" style="white-space:pre">T</text>
<text font-family="Liberation Sans" font-size="16.5" x="655.10" y="106.30" textLength="10.39" lengthAdjust="spacingAndGlyphs" style="white-space:pre">p</text>
<path d="M677.20,96.90 C679.53,93.70 682.32,93.50 684.95,95.30 C687.59,97.00 690.38,97.10 692.70,93.90" fill="none" stroke="#000" stroke-width="1.5"/>
<text font-family="Liberation Sans" font-size="24.7" x="703.18" y="102.70" textLength="38.83" lengthAdjust="spacingAndGlyphs" stroke="#000" stroke-width="0.35" style="white-space:pre">exp</text>
<path d="M746.80,85.10 C743.00,89.60 742.00,93.00 742.00,97.00 C742.00,101.00 743.00,104.40 746.80,108.90" fill="none" stroke="#000" stroke-width="1.25"/>
<path d="M749.6,90.10 L753.9,101.90 L758.2,90.10" fill="none" stroke="#000" stroke-width="1.85" stroke-linejoin="miter"/>
<text font-family="Liberation Sans" font-size="16.5" x="758.77" y="106.60" textLength="10.64" lengthAdjust="spacingAndGlyphs" style="white-space:pre">p</text>
<path d="M770.30,85.10 C774.10,89.60 775.10,93.00 775.10,97.00 C775.10,101.00 774.10,104.40 770.30,108.90" fill="none" stroke="#000" stroke-width="1.25"/>
<path d="M786.70,97.10 H802.50 M794.60,89.10 V104.60" stroke="#000" stroke-width="1.15"/>
<text font-family="Liberation Sans" font-size="25" x="811.40" y="102.90" textLength="50.94" lengthAdjust="spacingAndGlyphs" style="white-space:pre">SOA</text>
<text font-family="Liberation Sans" font-size="25" x="643.60" y="150.70" textLength="16.31" lengthAdjust="spacingAndGlyphs" style="white-space:pre">T</text>
<text font-family="Liberation Sans" font-size="16.5" x="654.23" y="154.60" textLength="19.13" lengthAdjust="spacingAndGlyphs" style="white-space:pre">cp</text>
<path d="M676.00,144.90 C678.25,141.70 680.95,141.50 683.50,143.30 C686.05,145.00 688.75,145.10 691.00,141.90" fill="none" stroke="#000" stroke-width="1.5"/>
<text font-family="Liberation Sans" font-size="24.7" x="703.18" y="150.70" textLength="38.83" lengthAdjust="spacingAndGlyphs" stroke="#000" stroke-width="0.35" style="white-space:pre">exp</text>
<path d="M746.80,133.10 C743.00,137.60 742.00,141.00 742.00,145.00 C742.00,149.00 743.00,152.40 746.80,156.90" fill="none" stroke="#000" stroke-width="1.25"/>
<path d="M749.6,138.10 L753.9,149.90 L758.2,138.10" fill="none" stroke="#000" stroke-width="1.85" stroke-linejoin="miter"/>
<text font-family="Liberation Sans" font-size="16.5" x="759.37" y="154.60" textLength="18.15" lengthAdjust="spacingAndGlyphs" style="white-space:pre">cp</text>
<path d="M777.70,133.10 C781.50,137.60 782.50,141.00 782.50,145.00 C782.50,149.00 781.50,152.40 777.70,156.90" fill="none" stroke="#000" stroke-width="1.25"/>
<path d="M791.00,145.10 H807.10 M799.05,137.20 V152.90" stroke="#000" stroke-width="1.15"/>
<text font-family="Liberation Sans" font-size="25" x="816.00" y="153.50" textLength="50.94" lengthAdjust="spacingAndGlyphs" style="white-space:pre">SOA</text>
<path d="M875.0,147.7 H890.9" stroke="#000" stroke-width="1.2"/>
<text font-family="Liberation Sans" font-size="25" x="897.25" y="153.70" textLength="53.50" lengthAdjust="spacingAndGlyphs" style="white-space:pre">COA</text>
<text font-family="Liberation Serif" stroke="#000" stroke-width="0.55" font-size="24.6" x="644.59" y="199.40" textLength="17.61" lengthAdjust="spacingAndGlyphs" style="white-space:pre">if</text>
<text font-family="Liberation Sans" font-size="25" x="670.30" y="199.00" textLength="16.31" lengthAdjust="spacingAndGlyphs" style="white-space:pre">T</text>
<text font-family="Liberation Sans" font-size="16.5" x="684.47" y="202.60" textLength="9.77" lengthAdjust="spacingAndGlyphs" style="white-space:pre">p</text>
<path d="M718.00,186.40 L704.30,191.90 L718.00,197.40" fill="none" stroke="#000" stroke-width="1.7" stroke-linejoin="miter"/>
<text font-family="Liberation Sans" font-size="25" x="725.10" y="199.00" textLength="16.31" lengthAdjust="spacingAndGlyphs" style="white-space:pre">T</text>
<text font-family="Liberation Sans" font-size="16.5" x="740.00" y="202.80" style="white-space:pre">r</text>
<text font-family="Liberation Serif" font-style="italic" font-size="24.5" x="758.98" y="199.60" textLength="21.55" lengthAdjust="spacingAndGlyphs" style="white-space:pre">or</text>
<text font-family="Liberation Sans" font-size="25" x="787.30" y="199.00" textLength="16.31" lengthAdjust="spacingAndGlyphs" style="white-space:pre">T</text>
<text font-family="Liberation Sans" font-size="16.5" x="801.33" y="202.60" textLength="19.13" lengthAdjust="spacingAndGlyphs" style="white-space:pre">cp</text>
<path d="M841.70,186.40 L827.60,191.90 L841.70,197.40" fill="none" stroke="#000" stroke-width="1.7" stroke-linejoin="miter"/>
<text font-family="Liberation Sans" font-size="25" x="848.80" y="199.00" textLength="16.31" lengthAdjust="spacingAndGlyphs" style="white-space:pre">T</text>
<text font-family="Liberation Sans" font-size="16.5" x="863.80" y="202.80" style="white-space:pre">r</text>
<text font-family="Liberation Serif" stroke="#000" stroke-width="0.55" font-size="24.6" x="881.00" y="199.40" textLength="52.15" lengthAdjust="spacingAndGlyphs" style="white-space:pre">then</text>
<path d="M656.7,213.9 V237.3" stroke="#222" stroke-width="1.2"/>
<text font-family="Liberation Sans" font-size="24" x="680.92" y="231.90" textLength="14.47" lengthAdjust="spacingAndGlyphs" style="white-space:pre">p</text>
<text font-family="Liberation Serif" font-size="15" x="693.95" y="223.90" textLength="7.10" lengthAdjust="spacingAndGlyphs" style="white-space:pre">1</text>
<text font-family="Liberation Sans" font-size="17.5" x="701.79" y="224.30" textLength="14.35" lengthAdjust="spacingAndGlyphs" style="white-space:pre">st</text>
<path d="M725.2,223.9 H741.3 M725.2,229.3 H741.3" stroke="#000" stroke-width="1.3"/>
<text font-family="Liberation Sans" font-size="24" x="750.52" y="231.90" textLength="14.47" lengthAdjust="spacingAndGlyphs" style="white-space:pre">p</text>
<text font-family="Liberation Serif" font-size="15" x="763.45" y="223.90" textLength="7.10" lengthAdjust="spacingAndGlyphs" style="white-space:pre">1</text>
<text font-family="Liberation Sans" font-size="17.5" x="770.88" y="224.30" textLength="14.45" lengthAdjust="spacingAndGlyphs" style="white-space:pre">st</text>
<path d="M794.60,226.60 H810.50 M802.55,218.90 V234.30" stroke="#000" stroke-width="1.15"/>
<text font-family="Liberation Serif" font-size="24.4" x="819.75" y="232.90" textLength="11.65" lengthAdjust="spacingAndGlyphs" style="white-space:pre">1</text>
<text font-family="Liberation Serif" stroke="#000" stroke-width="0.55" font-size="24.6" x="643.64" y="280.90" textLength="42.72" lengthAdjust="spacingAndGlyphs" style="white-space:pre">end</text>
<text font-family="Liberation Serif" stroke="#000" stroke-width="0.55" font-size="24.6" x="607.86" y="330.70" textLength="42.30" lengthAdjust="spacingAndGlyphs" style="white-space:pre">end</text>
</g>
<text font-family="Liberation Sans" font-size="19.8" x="625.48" y="379.30" textLength="101.74" lengthAdjust="spacingAndGlyphs" style="white-space:pre">"Probe first"</text>
<path d="M733.7,372.7 H742.7 M733.7,376.9 H742.7" stroke="#000" stroke-width="1.3"/>
<path d="M754.8,373.2 H893.8" stroke="#000" stroke-width="1.3"/>
<text font-family="Liberation Sans" font-size="16.5" x="809.40" y="368.60" textLength="10.39" lengthAdjust="spacingAndGlyphs" style="white-space:pre">p</text>
<text font-family="Liberation Serif" font-size="11" x="819.65" y="363.30" textLength="3.69" lengthAdjust="spacingAndGlyphs" style="white-space:pre">1</text>
<text font-family="Liberation Sans" font-size="12.5" x="825.60" y="363.50" textLength="11.21" lengthAdjust="spacingAndGlyphs" style="white-space:pre">st</text>
<text font-family="Liberation Sans" font-size="16.2" x="754.82" y="386.90" textLength="139.26" lengthAdjust="spacing" style="white-space:pre">num_simulations</text>
</svg>
</body></html>
